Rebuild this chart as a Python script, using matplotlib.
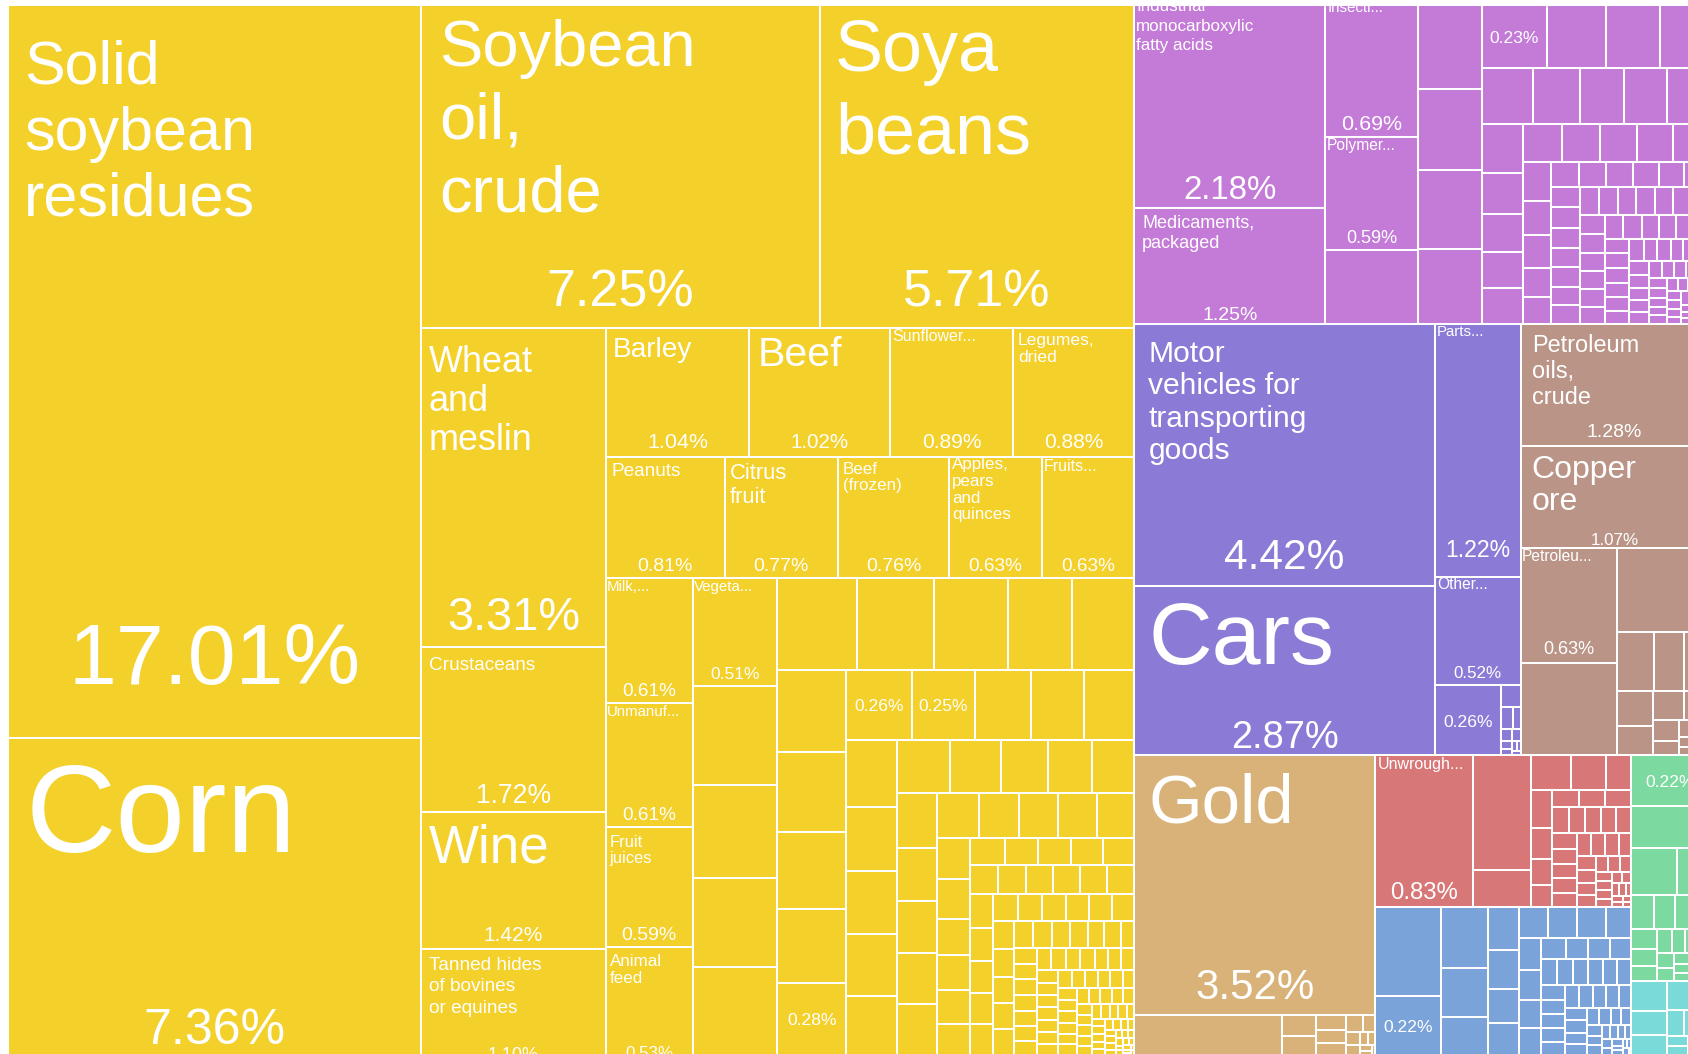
import matplotlib
matplotlib.use("Agg")
import matplotlib.pyplot as plt
from matplotlib.patches import Rectangle

W, H = 1688, 1054
FONT = "Liberation Sans"
PHI = (1 + 5 ** 0.5) / 2

# ---------------- data (share of exports, %) ----------------
agri_values = [17.01, 7.36, 7.25, 5.71, 3.31, 1.72, 1.42, 1.10, 1.04, 1.02, 0.89, 0.88,
               0.81, 0.77, 0.76, 0.63, 0.63, 0.61, 0.61, 0.59, 0.53, 0.51,
               0.47, 0.44, 0.42, 0.415,
               0.41, 0.40, 0.38, 0.33, 0.32,
               0.32, 0.31, 0.30, 0.29, 0.28,
               0.26, 0.25, 0.22, 0.21, 0.20,
               0.19, 0.185, 0.18, 0.175, 0.17,
               0.157, 0.152, 0.14, 0.132, 0.127,
               0.122, 0.12, 0.118, 0.116, 0.114,
               0.104, 0.10, 0.098, 0.096, 0.094,
               0.076, 0.072, 0.067, 0.064, 0.062, 0.057,
               0.052, 0.05, 0.049, 0.048, 0.047,
               0.047, 0.046, 0.046, 0.045, 0.045, 0.045,
               0.044, 0.043, 0.041, 0.04, 0.04,
               0.038, 0.036, 0.035, 0.035, 0.034, 0.034,
               0.033, 0.032, 0.031, 0.030, 0.030,
               0.030, 0.029, 0.028, 0.027, 0.025, 0.025, 0.021,
               0.020, 0.020, 0.020, 0.020, 0.020, 0.019, 0.018, 0.018, 0.018, 0.017,
               0.017, 0.016, 0.016, 0.016, 0.016, 0.015, 0.015, 0.015, 0.015, 0.014,
               0.014, 0.014, 0.014, 0.013, 0.013, 0.013, 0.012, 0.012, 0.012, 0.012,
               0.011, 0.011, 0.011, 0.011, 0.010, 0.010, 0.010, 0.010,
               0.009, 0.009, 0.009, 0.008, 0.008, 0.008, 0.007, 0.007, 0.007,
               0.006, 0.006, 0.006, 0.006, 0.005, 0.005, 0.005, 0.005,
               0.004, 0.004, 0.004, 0.004, 0.004, 0.003, 0.003, 0.003, 0.003, 0.003,
               0.002, 0.002, 0.002, 0.002, 0.002, 0.001, 0.001, 0.001, 0.001]
agri_labels = ["Solid\nsoybean\nresidues", "Corn", "Soybean\noil,\ncrude", "Soya\nbeans",
               "Wheat\nand\nmeslin", "Crustaceans", "Wine", "Tanned hides\nof bovines\nor equines",
               "Barley", "Beef", "Sunflower...", "Legumes,\ndried", "Peanuts", "Citrus\nfruit",
               "Beef\n(frozen)", "Apples,\npears\nand\nquinces", "Fruits...", "Milk,...",
               "Unmanuf...", "Fruit\njuices", "Animal\nfeed", "Vegeta..."] + [None] * 13 + ["", "", ""]

chem_values = [2.18, 1.25, 0.69, 0.59, 0.39, 0.30, 0.29, 0.28, 0.27,
               0.23, 0.21, 0.19, 0.17,
               0.16, 0.15, 0.14, 0.135, 0.13,
               0.113, 0.094, 0.088, 0.085, 0.083,
               0.082, 0.08, 0.078, 0.076, 0.075,
               0.06, 0.054, 0.05, 0.046, 0.042,
               0.04, 0.038, 0.037, 0.036, 0.035, 0.034,
               0.034, 0.033, 0.033, 0.032, 0.032, 0.031, 0.031, 0.030, 0.030, 0.030,
               0.029, 0.029, 0.028, 0.028, 0.027, 0.027, 0.026, 0.026, 0.025, 0.025,
               0.024, 0.024, 0.023, 0.022, 0.022, 0.021, 0.020, 0.020, 0.020, 0.019,
               0.019, 0.018, 0.018, 0.017, 0.017, 0.016, 0.016, 0.015, 0.015, 0.014,
               0.014, 0.013, 0.013, 0.012, 0.012, 0.011, 0.011, 0.010, 0.010, 0.010,
               0.009, 0.009, 0.009, 0.008, 0.008, 0.008, 0.007, 0.007, 0.007, 0.006,
               0.006, 0.006, 0.005, 0.005, 0.005, 0.004, 0.004, 0.004, 0.003, 0.003,
               0.003, 0.002, 0.002, 0.002, 0.001, 0.001]
chem_labels = ["Industrial\nmonocarboxylic\nfatty acids", "Medicaments,\npackaged", "Insecti...",
               "Polymer...", None, None, None, None, None, ""]

trans_values = [4.42, 2.87, 1.22, 0.52, 0.26, 0.025, 0.015, 0.01, 0.008, 0.006, 0.005,
                0.004, 0.003, 0.002, 0.002]
trans_labels = ["Motor\nvehicles for\ntransporting\ngoods", "Cars", "Parts...", "Other...", ""]

mineral_values = [1.28, 1.07, 0.63, 0.50, 0.43, 0.12, 0.10, 0.08, 0.07, 0.06, 0.05,
                  0.04, 0.03, 0.02, 0.015, 0.012, 0.01, 0.008, 0.006, 0.004, 0.003]
mineral_labels = ["Petroleum\noils,\ncrude", "Copper\nore", "Petroleu..."]

precious_values = [3.52, 0.33, 0.04, 0.035, 0.025, 0.022, 0.02, 0.016, 0.012, 0.01,
                   0.008, 0.006, 0.005, 0.004, 0.003, 0.002]
precious_labels = ["Gold"]

metal_values = [0.83, 0.37, 0.12, 0.079, 0.068, 0.05, 0.046, 0.038, 0.032, 0.027, 0.026,
                0.025, 0.025, 0.024, 0.024, 0.023, 0.022, 0.022, 0.021, 0.021, 0.02, 0.02,
                0.019, 0.018, 0.018, 0.017, 0.016, 0.015, 0.014, 0.013, 0.012, 0.011, 0.01,
                0.01, 0.009, 0.008, 0.008, 0.007, 0.006, 0.006, 0.005, 0.005, 0.004,
                0.004, 0.003, 0.003, 0.002]
metal_labels = ["Unwrough..."]

machine_values = [0.33, 0.22, 0.16, 0.126, 0.10, 0.076, 0.068, 0.059, 0.055, 0.052, 0.052,
                  0.05, 0.045, 0.04, 0.037, 0.035, 0.033, 0.03, 0.027, 0.026, 0.025, 0.024,
                  0.023, 0.022, 0.022, 0.021, 0.021, 0.02, 0.02, 0.019, 0.019, 0.018, 0.018,
                  0.017, 0.017, 0.016, 0.016, 0.015, 0.015, 0.014, 0.013, 0.012, 0.011,
                  0.01, 0.01, 0.009, 0.008, 0.008, 0.007, 0.006, 0.006, 0.005, 0.005,
                  0.004, 0.004, 0.003, 0.003, 0.002, 0.002, 0.002, 0.001]
machine_labels = [None, ""]

green_values = [0.22, 0.18, 0.12, 0.08, 0.045, 0.04, 0.035, 0.03, 0.028, 0.025, 0.022,
                0.02, 0.018, 0.016, 0.015, 0.014, 0.012, 0.01, 0.009, 0.008, 0.007,
                0.006, 0.005, 0.004, 0.003, 0.002]
green_labels = [""]

cyan_values = [0.06, 0.05, 0.04, 0.035, 0.03, 0.025, 0.02, 0.015, 0.012, 0.01, 0.008,
               0.006, 0.004, 0.003]
cyan_labels = []

group_colors = ["#F4D02A", "#C47BD8", "#8B7BD6", "#BA9587", "#D8B279",
                "#D87777", "#7AA3D9", "#7CD9A0", "#7AD9D9"]

# ---------------- layout (row structure of the squarified treemap) ----------------
groups = [
    (agri_values, agri_labels, [(2, 'c'), (2, 'r'), (4, 'c'), (4, 'r'), (5, 'r'), (4, 'c'),
                                (5, 'c'), (5, 'r'), (5, 'c'), (5, 'r'), (5, 'c'), (5, 'r'),
                                (5, 'c'), (5, 'r'), (6, 'c'), (5, 'r'), (6, 'r'), (5, 'c'),
                                (6, 'r'), (5, 'c'), (7, 'r')]),
    (chem_values, chem_labels, [(2, 'c'), (3, 'c'), (4, 'c'), (4, 'r'), (5, 'r'), (5, 'c'),
                                (5, 'r'), (5, 'c'), (6, 'r')]),
    (trans_values, trans_labels, [(2, 'c'), (1, 'r'), (1, 'r'), (1, 'c')]),
    (mineral_values, mineral_labels, [(1, 'r'), (1, 'r'), (2, 'c'), (1, 'r')]),
    (precious_values, precious_labels, [(1, 'r'), (1, 'c')]),
    (metal_values, metal_labels, [(1, 'c'), (2, 'c'), (3, 'r'), (4, 'c'), (3, 'r')]),
    (machine_values, machine_labels, [(2, 'c'), (3, 'c'), (4, 'c'), (4, 'r'), (4, 'c'), (4, 'r')]),
    (green_values, green_labels, [(1, 'r'), (1, 'r'), (2, 'r')]),
    (cyan_values, cyan_labels, []),
]
top_plan = [(1, 'c'), (1, 'r'), (2, 'r'), (1, 'c'), (2, 'c'), (2, 'c')]


def squarify(vals, x0, y0, x1, y1, plan=(), ratio=PHI):
    rects = [None] * len(vals)
    total = float(sum(vals))
    plan = list(plan)
    n = len(vals)
    i0 = 0
    while i0 < n:
        dx, dy = x1 - x0, y1 - y0
        if plan:
            cnt, o = plan.pop(0)
            i1 = min(n, i0 + cnt)
            dice = (o == 'r')
        else:
            i1 = i0 + 1
            s = vals[i0]
            mn = mx = s
            alpha = max(dy / dx, dx / dy) / (total * ratio)
            beta = s * s * alpha
            best = max(mx / beta, beta / mn)
            while i1 < n:
                v = vals[i1]
                s2 = s + v
                mn2, mx2 = min(mn, v), max(mx, v)
                beta = s2 * s2 * alpha
                r = max(mx2 / beta, beta / mn2)
                if r > best:
                    break
                s, mn, mx, best = s2, mn2, mx2, r
                i1 += 1
            dice = dx < dy
        rs = sum(vals[i0:i1])
        last = i1 >= n
        if dice:
            h = dy if last else dy * rs / total
            x = x0
            for k in range(i0, i1):
                w = dx * vals[k] / rs
                rects[k] = (x, y0, x + w, y0 + h)
                x += w
            y0 += h
        else:
            w = dx if last else dx * rs / total
            y = y0
            for k in range(i0, i1):
                h = dy * vals[k] / rs
                rects[k] = (x0, y, x0 + w, y + h)
                y += h
            x0 += w
        total -= rs
        i0 = i1
    return rects


# label styles: name px, percent px, name top offset, percent bottom offset, left pad, line height
STYLE = {
    "Solid\nsoybean\nresidues": (61, 86, 35, 54, 16, 1.08),
    "Corn": (125, 50, 25, 11, 18, 1.1),
    "Soybean\noil,\ncrude": (65, 52, 14, 22, 18, 1.12),
    "Soya\nbeans": (72, 52, 14, 22, 15, 1.15),
    "Wheat\nand\nmeslin": (36, 47, 18, 17, 8, 1.09),
    "Crustaceans": (19, 26.5, 10, 9, 8, 1.1),
    "Wine": (53, 21, 12, 8, 8, 1.1),
    "Tanned hides\nof bovines\nor equines": (19, 18, 7, -5, 8, 1.13),
    "Barley": (28, 21.5, 9, 9, 7, 1.1),
    "Beef": (41, 20.5, 8, 9, 8, 1.1),
    "Sunflower...": (16, 21, 1, 9, 2, 1.1),
    "Legumes,\ndried": (17.5, 21, 4, 9, 5, 1.0),
    "Peanuts": (19, 19.5, 5, 7, 6, 1.1),
    "Citrus\nfruit": (22, 19.5, 6, 7, 5, 1.1),
    "Beef\n(frozen)": (17, 19.5, 5, 7, 5, 0.95),
    "Apples,\npears\nand\nquinces": (17, 19, 0, 7, 3, 0.98),
    "Fruits...": (16, 19, 2, 7, 2, 1.1),
    "Milk,...": (15, 19, 2, 7, 1, 1.1),
    "Unmanuf...": (15, 19, 3, 7, 1, 1.1),
    "Fruit\njuices": (16.5, 19.5, 8, 7, 4, 1.0),
    "Animal\nfeed": (17, 17, 7, -3, 4, 1.0),
    "Vegeta...": (15, 17.5, 2, 7, 1, 1.1),
    "Industrial\nmonocarboxylic\nfatty acids": (17, 33, -6, 9, 2, 1.14),
    "Medicaments,\npackaged": (18, 19.5, 7, 4, 8, 1.1),
    "Insecti...": (15, 21.5, -4, 7, 2, 1.1),
    "Polymer...": (15.5, 18, 2, 7, 1, 1.1),
    "Motor\nvehicles for\ntransporting\ngoods": (30, 42.5, 16, 17, 14, 1.08),
    "Cars": (88, 38, 15, 7, 14, 1.1),
    "Parts...": (15, 23, 1, 20, 2, 1.1),
    "Other...": (15.5, 17, 1, 7, 2, 1.1),
    "Petroleum\noils,\ncrude": (23.5, 19.5, 11, 9, 11, 1.1),
    "Copper\nore": (32, 17, 9, 3, 11, 1.0),
    "Petroleu...": (15.5, 18, 2, 9, 1, 1.1),
    "Gold": (69, 42, 18, 16, 14, 1.1),
    "Unwrough...": (16, 24, 2, 8, 2, 1.1),
}
PT = 0.72  # px -> pt at dpi 100
CAP = 0.716

fig = plt.figure(figsize=(W / 100, H / 100), dpi=100)
ax = fig.add_axes([0, 0, 1, 1])
ax.set_xlim(0, W)
ax.set_ylim(H, 0)
ax.axis("off")

X0, Y0, X1, Y1 = 8, 5, 1708, 1055
totals = [sum(g[0]) for g in groups]
group_rects = squarify(totals, X0, Y0, X1, Y1, top_plan)

for (vals, labels, plan), grect, color in zip(groups, group_rects, group_colors):
    labs = list(labels) + [None] * (len(vals) - len(labels))
    order = sorted(range(len(vals)), key=lambda k: -vals[k])
    svals = [vals[k] for k in order]
    slabs = [labs[k] for k in order]
    rects = squarify(svals, *grect, plan)
    for v, lab, (a, b, c, d) in zip(svals, slabs, rects):
        ax.add_patch(Rectangle((a, b), c - a, d - b, facecolor=color,
                               edgecolor="white", linewidth=1.45))
        if lab is None:
            continue
        pct = f"{v:.2f}%"
        cx = (a + c) / 2
        if lab == "":
            ax.text(cx, (b + d) / 2 + CAP * 17.5 / 2, pct, color="white", family=FONT,
                    fontsize=17.5 * PT, ha="center", va="baseline")
            continue
        fs, pfs, top, bot, pad, lh = STYLE[lab]
        for j, line in enumerate(lab.split("\n")):
            ax.text(a + pad, b + top + CAP * fs + j * lh * fs, line, color="white",
                    family=FONT, fontsize=fs * PT, ha="left", va="baseline")
        ax.text(cx, d - bot, pct, color="white", family=FONT, fontsize=pfs * PT,
                ha="center", va="baseline")

fig.savefig("out.png", dpi=100, facecolor="white")
